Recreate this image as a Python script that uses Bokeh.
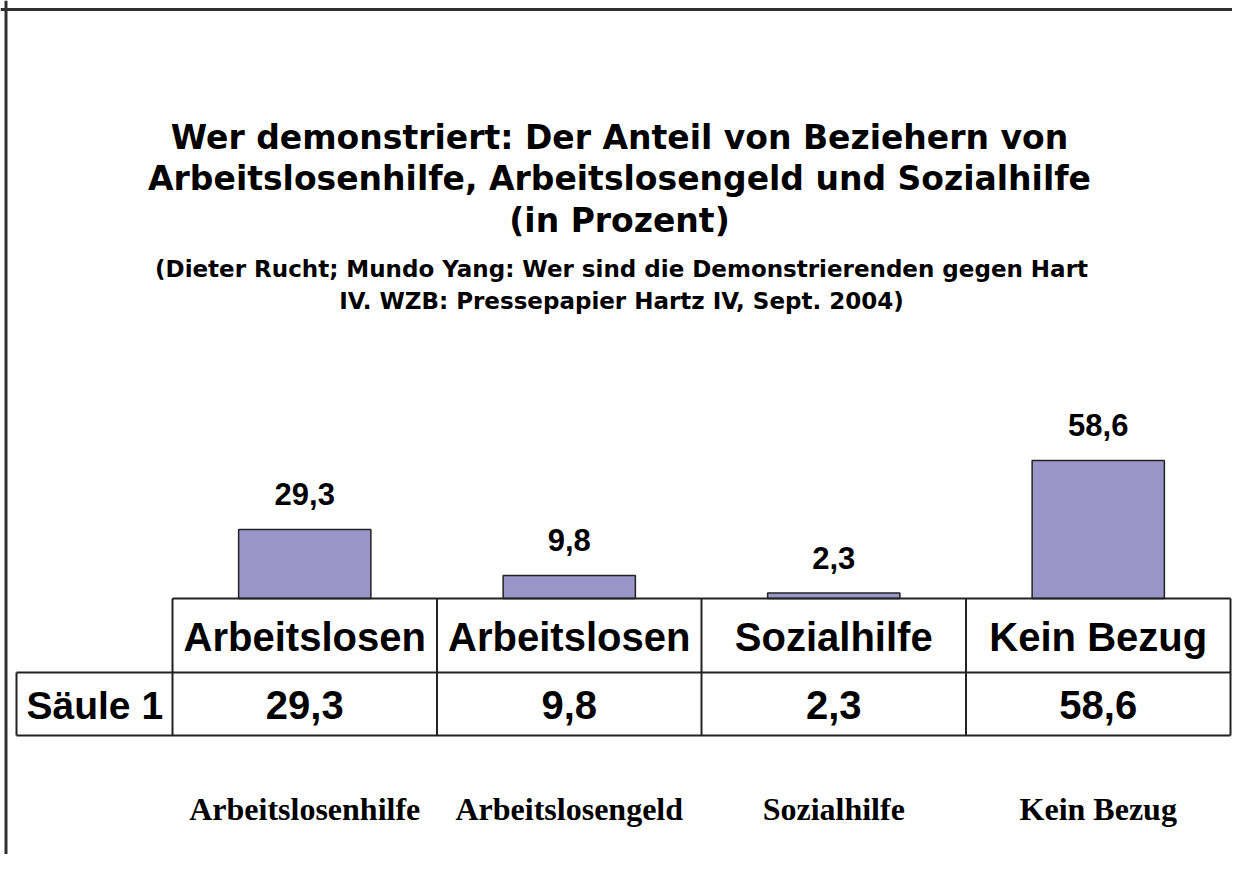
from bokeh.plotting import figure
from bokeh.models import Range1d
from bokeh.core.properties import value
from bokeh.embed import file_html
from bokeh.resources import INLINE

# ---- data ----
categories = ["Arbeitslosenhilfe", "Arbeitslosengeld", "Sozialhilfe", "Kein Bezug"]
table_headers = ["Arbeitslosen", "Arbeitslosen", "Sozialhilfe", "Kein Bezug"]
values = [29.3, 9.8, 2.3, 58.6]
value_labels = ["29,3", "9,8", "2,3", "58,6"]
series_name = "Säule 1"
title_lines = [
    "Wer demonstriert: Der Anteil von Beziehern von",
    "Arbeitslosenhilfe, Arbeitslosengeld und Sozialhilfe",
    "(in Prozent)",
]
subtitle_lines = [
    "(Dieter Rucht; Mundo Yang: Wer sind die Demonstrierenden gegen Hart",
    "IV. WZB: Pressepapier Hartz IV, Sept. 2004)",
]

# ---- layout constants (pixels inside the figure) ----
W, H = 1232, 854
COL = 264.5          # width of one table column / category slot
X0 = 172             # left edge of first data column
BASE = 598           # pixel row of value 0 (top of the table)
PXU = 2.355          # pixels per percent
ROW1, ROW2 = 672, 735
idx = list(range(len(categories)))

p = figure(width=W, height=H, x_range=Range1d(0, W), y_range=Range1d(H, 0),
           x_axis_type=None, y_axis_type=None, output_backend="svg",
           toolbar_location=None, min_border=0)
p.grid.visible = False
p.outline_line_color = None
p.background_fill_color = "white"
p.border_fill_color = "white"

cat_start = -0.5 - X0 / COL
p.extra_x_ranges = {"cat": Range1d(cat_start, cat_start + W / COL)}
p.extra_y_ranges = {"val": Range1d(-(H - BASE) / PXU, BASE / PXU)}
label_left = cat_start + 16 / COL
right = len(categories) - 0.5

# frame lines (top and left)
p.segment(x0=[0, 5.5], y0=[9, 0], x1=[W, 5.5], y1=[9, H],
          line_color="#303030", line_width=3)

# title
sans_b = dict(text_font=value("DejaVu Sans"), text_font_style="bold",
              text_color="black", text_align="center", text_baseline="middle")
p.text(x=[619] * 3, y=[137, 178, 220], text=title_lines, text_font_size="33px", **sans_b)
p.text(x=[621] * 2, y=[268, 300], text=subtitle_lines, text_font_size="23px", **sans_b)

# bars
p.vbar(x=idx, top=values, bottom=0, width=0.5, x_range_name="cat", y_range_name="val",
       fill_color="#9B95C9", line_color="#222222", line_width=1.5)

arial_b = dict(text_font=value("Liberation Sans"), text_font_style="bold",
               text_color="black", text_baseline="middle")
p.text(x=idx, y=values, text=value_labels, x_range_name="cat", y_range_name="val",
       y_offset=-35, text_align="center", text_font_size="31px", **arial_b)

# table lines
p.segment(x0=[-0.5, label_left, label_left], y0=[BASE, ROW1, ROW2],
          x1=[right] * 3, y1=[BASE, ROW1, ROW2], x_range_name="cat",
          line_color="#222222", line_width=2)
vx = [label_left] + [i - 0.5 for i in idx] + [right]
vy0 = [ROW1] + [BASE] * (len(idx) + 1)
p.segment(x0=vx, y0=vy0, x1=vx, y1=[ROW2] * len(vx), x_range_name="cat",
          line_color="#222222", line_width=2)

# table texts
p.text(x=idx, y=[(BASE + ROW1) / 2 + 1] * len(idx), text=table_headers, x_range_name="cat",
       text_align="center", text_font_size="40px", **arial_b)
p.text(x=idx, y=[(ROW1 + ROW2) / 2 + 1] * len(idx), text=value_labels, x_range_name="cat",
       text_align="center", text_font_size="40px", **arial_b)
p.text(x=[label_left], y=[(ROW1 + ROW2) / 2 + 1], text=[series_name], x_range_name="cat",
       x_offset=10, text_align="left", text_font_size="39px", **arial_b)

# bottom category labels
p.text(x=idx, y=[808] * len(idx), text=categories, x_range_name="cat",
       text_font=value("Liberation Serif"), text_font_style="bold", text_color="black",
       text_align="center", text_baseline="middle", text_font_size="32px")

open("out.html", "w").write(file_html(p, INLINE))
